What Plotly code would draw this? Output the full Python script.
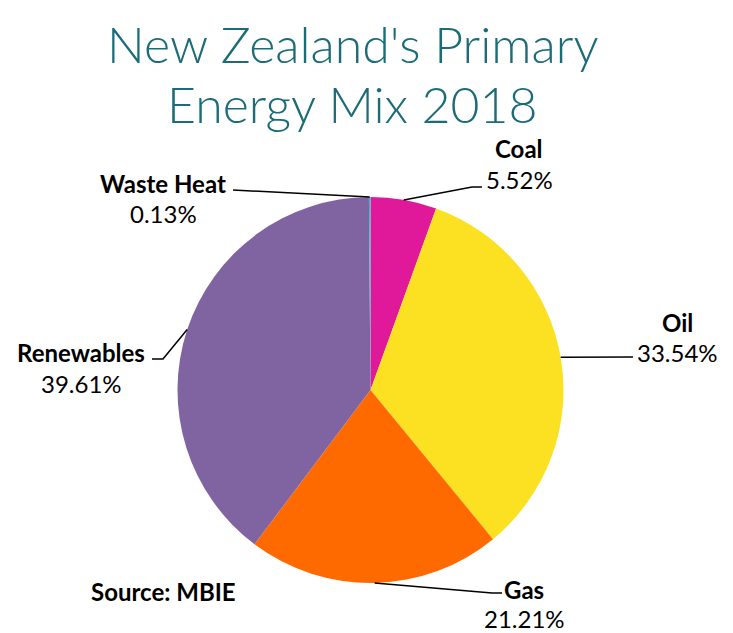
import math
import plotly.graph_objects as go

# ---- data ----
categories = ["Coal", "Oil", "Gas", "Renewables", "Waste Heat"]
shares = [5.52, 33.54, 21.21, 39.61, 0.13]
share_labels = ["5.52%", "33.54%", "21.21%", "39.61%", "0.13%"]
title_lines = ["New Zealand's Primary", "Energy Mix 2018"]
source_text = "Source: MBIE"

# ---- styling / layout ----
colors = ["#E0199A", "#FCE123", "#FF6A00", "#8064A2", "#4BACC6"]
W, H = 733, 633
CX, CY, R = 370.5, 390.0, 193.0  # pie centre / radius in pixels

# label anchor (text centre x, name-line y, gap to percent line) and leader points
label_pos = {
    "Coal": (519, 148, 31),
    "Oil": (677, 322, 31),
    "Gas": (524, 589, 29),
    "Renewables": (81, 352, 31),
    "Waste Heat": (163, 183, 31),
}
leader_pts = {
    "Coal": [(472, 187), (482, 187)],
    "Oil": [(633, 357)],
    "Gas": [(492, 593), (502, 593)],
    "Renewables": [(163, 359), (152, 359)],
    "Waste Heat": [(233, 190)],
}

FONT = "Lato, 'Open Sans', sans-serif"
LSIZE = 24


def px(x):
    return x / W


def py(y):
    return 1 - y / H


fig = go.Figure(
    go.Pie(
        labels=categories,
        values=shares,
        sort=False,
        direction="clockwise",
        rotation=0,
        textinfo="none",
        marker=dict(colors=colors, line=dict(width=0)),
        domain=dict(x=[px(CX - R), px(CX + R)], y=[py(CY + R), py(CY - R)]),
        showlegend=False,
    )
)

annotations = []
shapes = []
total = sum(shares)
cum = 0.0
for cat, val, lab in zip(categories, shares, share_labels):
    mid = (cum + val / 2) / total * 2 * math.pi
    cum += val
    ex = CX + R * math.sin(mid)
    ey = CY - R * math.cos(mid)
    pts = [(ex, ey)] + leader_pts[cat]
    path = "M " + " L ".join(f"{px(x)},{py(y)}" for x, y in pts)
    shapes.append(dict(type="path", xref="paper", yref="paper", path=path,
                       line=dict(color="black", width=1.5)))
    lx, ly, gap = label_pos[cat]
    annotations.append(dict(x=px(lx), y=py(ly), xref="paper", yref="paper",
                            text=f"<b>{cat}</b>", showarrow=False,
                            xanchor="center", yanchor="middle", borderpad=0,
                            font=dict(family=FONT, size=LSIZE, color="black")))
    annotations.append(dict(x=px(lx), y=py(ly + gap), xref="paper", yref="paper",
                            text=lab, showarrow=False,
                            xanchor="center", yanchor="middle", borderpad=0,
                            font=dict(family=FONT, size=LSIZE, color="black")))

for i, t in enumerate(title_lines):
    annotations.append(dict(x=px(352), y=py(44 + i * 60), xref="paper", yref="paper",
                            text=t, showarrow=False, xanchor="center", yanchor="middle",
                            font=dict(family=FONT, size=50, color="#1B6C78", weight=300)))

annotations.append(dict(x=px(163), y=py(591), xref="paper", yref="paper",
                        text=f"<b>{source_text}</b>", showarrow=False,
                        xanchor="center", yanchor="middle",
                        font=dict(family=FONT, size=LSIZE, color="black")))

fig.update_layout(
    width=W, height=H,
    margin=dict(l=0, r=0, t=0, b=0),
    paper_bgcolor="white", plot_bgcolor="white",
    annotations=annotations, shapes=shapes,
)

fig.write_html("out.html", config={"displayModeBar": False},
               post_script="document.body.style.margin='0px';")
